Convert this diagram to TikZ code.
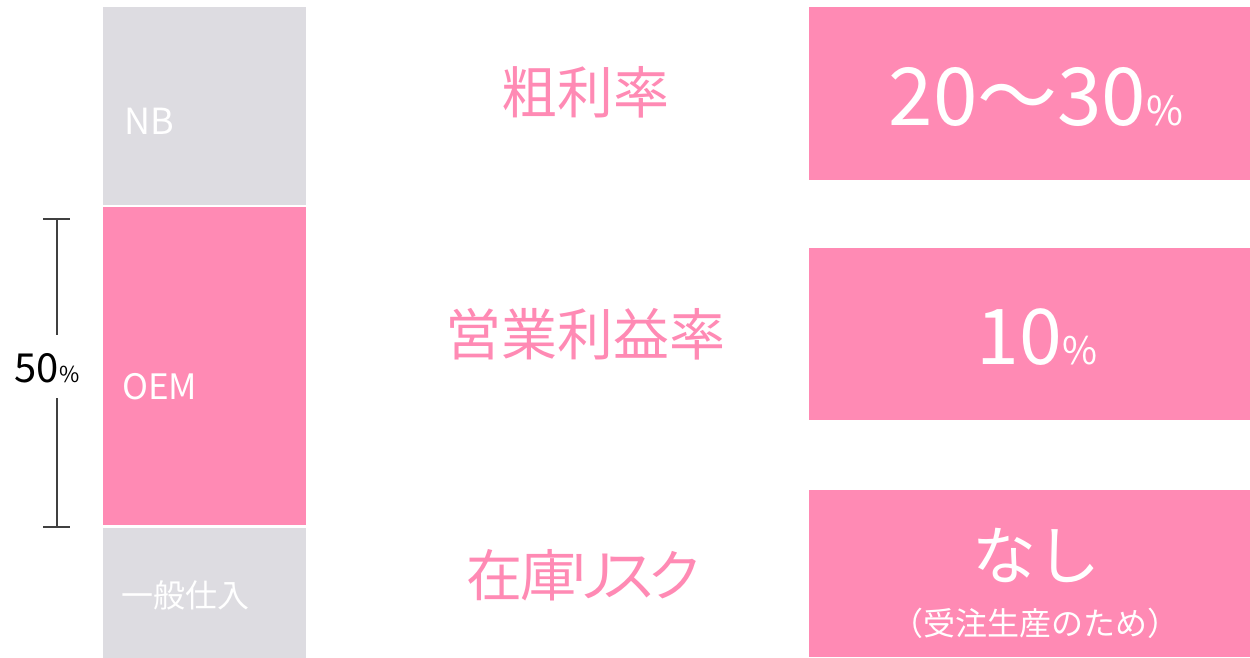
\documentclass[tikz,border=0pt]{standalone}
\usepackage{fontspec}
\setmainfont{Noto Sans CJK JP}
\definecolor{pinkc}{HTML}{FF8AB4}
\definecolor{grayc}{HTML}{DDDCE1}
\definecolor{linec}{HTML}{404040}
\newcommand{\fs}[1]{\fontsize{#1}{#1}\selectfont}
\begin{document}
\begin{tikzpicture}[x=1pt,y=-1pt,
  wlabel/.style={text=white,inner sep=0pt,anchor=base west},
  midlabel/.style={text=pinkc,inner sep=0pt,anchor=base},
  vallabel/.style={text=white,inner sep=0pt,anchor=base},
  brk/.style={draw=linec,line width=1.3pt}]
\useasboundingbox (0,0) rectangle (1250,658);
% left column
\fill[grayc] (103,7) rectangle (306,205);
\fill[pinkc] (103,207) rectangle (306,525);
\fill[grayc] (103,528) rectangle (306,658);
\node[wlabel] (nb) at (124,135) {\fs{36}NB};
\node[wlabel] (oem) at (122,399) {\fs{35}OEM};
\node[wlabel] (ippan) at (121,607) {\fs{32}一般仕入};
% bracket
\coordinate (t1) at (43,219);
\coordinate (t2) at (70,219);
\coordinate (tm) at (57,219);
\coordinate (b1) at (43,527);
\coordinate (b2) at (70,527);
\coordinate (bm) at (57,527);
\coordinate (g1) at (57,335);
\coordinate (g2) at (57,398);
\draw[brk] (t1) -- (t2);
\draw[brk] (b1) -- (b2);
\draw[brk] (tm) -- (g1);
\draw[brk] (g2) -- (bm);
\node[inner sep=0pt,anchor=base] (fifty) at (47,382) {\fs{40}50{\fs{22}\%}};
% middle labels
\node[midlabel] (arari) at (585,114) {\fs{56}粗利率};
\node[midlabel] (eigyo) at (585,355) {\fs{56}営業利益率};
\node[midlabel] (zaiko) at (585,596) {\fs{56}在\kern-2pt 庫\kern-12pt リ\kern-20pt ス\kern-9pt ク};
% right boxes
\fill[pinkc] (809,7) rectangle (1250,180);
\fill[pinkc] (809,248) rectangle (1250,420);
\fill[pinkc] (809,490) rectangle (1250,657);
\node[vallabel] (v1) at (1036,125) {\fs{80}20～30{\fs{40}\%}};
\node[vallabel] (v2) at (1037,364) {\fs{77}10{\fs{38}\%}};
\node[vallabel] (v3) at (1036,579) {\fs{64}なし};
\node[vallabel] (v4) at (1035,635) {\fs{32}（受注生産のため）};
\end{tikzpicture}
\end{document}
